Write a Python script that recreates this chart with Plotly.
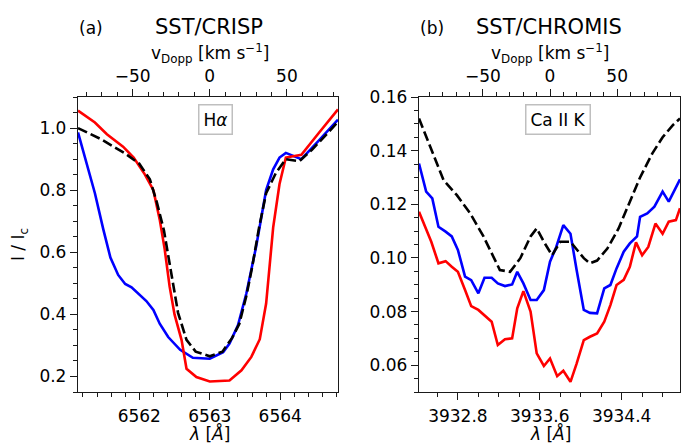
import plotly.graph_objects as go

C_KMS = 299792.458

# ---------------- H-alpha (SST/CRISP) ----------------
ha_black_wl = [6561.13, 6561.45, 6561.80, 6562.00, 6562.15, 6562.25, 6562.35, 6562.45, 6562.55, 6562.67,
               6562.80, 6563.00, 6563.18, 6563.32, 6563.42, 6563.52, 6563.60, 6563.70, 6563.80, 6563.94,
               6564.08, 6564.27, 6564.45, 6564.65, 6564.82]
ha_black_i = [1.000, 0.965, 0.918, 0.885, 0.835, 0.760, 0.670, 0.530, 0.405, 0.318,
              0.280, 0.265, 0.280, 0.325, 0.370, 0.460, 0.550, 0.680, 0.790, 0.856,
              0.900, 0.893, 0.930, 0.978, 1.020]

ha_red_wl = [6561.13, 6561.37, 6561.54, 6561.68, 6561.77, 6561.92, 6562.08, 6562.20, 6562.29, 6562.36,
             6562.43, 6562.50, 6562.60, 6562.67, 6562.81, 6563.00, 6563.28, 6563.45, 6563.59, 6563.71,
             6563.80, 6563.90, 6563.99, 6564.08, 6564.30, 6564.55, 6564.82]
ha_red_i = [1.056, 1.018, 0.980, 0.954, 0.940, 0.905, 0.850, 0.800, 0.705, 0.610,
            0.490, 0.400, 0.317, 0.225, 0.198, 0.184, 0.187, 0.220, 0.263, 0.320,
            0.435, 0.680, 0.820, 0.905, 0.914, 0.985, 1.060]

ha_blue_wl = [6561.13, 6561.25, 6561.37, 6561.49, 6561.59, 6561.70, 6561.80, 6561.89, 6561.99, 6562.10,
              6562.20, 6562.29, 6562.41, 6562.58, 6562.76, 6563.00, 6563.19, 6563.28, 6563.40, 6563.52,
              6563.66, 6563.71, 6563.80, 6563.90, 6563.99, 6564.08, 6564.18, 6564.30, 6564.55, 6564.82]
ha_blue_i = [0.986, 0.890, 0.790, 0.673, 0.583, 0.527, 0.498, 0.487, 0.465, 0.443,
             0.414, 0.370, 0.327, 0.286, 0.260, 0.257, 0.278, 0.306, 0.365, 0.468,
             0.620, 0.684, 0.800, 0.867, 0.905, 0.920, 0.910, 0.900, 0.960, 1.027]

# ---------------- Ca II K (SST/CHROMIS) ----------------
ca_black_wl = [3932.42, 3932.53, 3932.66, 3932.79, 3932.92, 3933.05, 3933.15, 3933.21, 3933.31, 3933.41,
               3933.51, 3933.57, 3933.64, 3933.72, 3933.80, 3933.90, 3934.03, 3934.09, 3934.16, 3934.26,
               3934.37, 3934.47, 3934.58, 3934.70, 3934.80, 3934.90, 3934.97]
ca_black_i = [0.1520, 0.1415, 0.1290, 0.1234, 0.1166, 0.1080, 0.1000, 0.0955, 0.0948, 0.0999,
              0.1080, 0.1110, 0.1060, 0.1010, 0.1060, 0.1060, 0.0999, 0.0980, 0.0990, 0.1035,
              0.1110, 0.1200, 0.1300, 0.1390, 0.1450, 0.1495, 0.1520]

ca_blue_wl = [3932.42, 3932.49, 3932.55, 3932.61, 3932.68, 3932.74, 3932.80, 3932.87, 3932.93, 3933.00,
              3933.06, 3933.13, 3933.19, 3933.26, 3933.33, 3933.38, 3933.44, 3933.51, 3933.57, 3933.64,
              3933.70, 3933.76, 3933.83, 3933.90, 3933.96, 3934.03, 3934.09, 3934.16, 3934.23, 3934.29,
              3934.35, 3934.42, 3934.48, 3934.55, 3934.58, 3934.65, 3934.72, 3934.80, 3934.86, 3934.93,
              3934.97]
ca_blue_i = [0.1352, 0.1247, 0.1222, 0.1116, 0.1098, 0.1080, 0.1030, 0.0930, 0.0917, 0.0868,
             0.0926, 0.0926, 0.0905, 0.0895, 0.0901, 0.0948, 0.0905, 0.0843, 0.0843, 0.0880,
             0.0986, 0.1040, 0.1122, 0.1090, 0.0955, 0.0806, 0.0795, 0.0793, 0.0886, 0.0899,
             0.0961, 0.1023, 0.1054, 0.1080, 0.1153, 0.1166, 0.1191, 0.1247, 0.1210, 0.1265,
             0.1293]

ca_red_wl = [3932.42, 3932.48, 3932.54, 3932.61, 3932.68, 3932.74, 3932.80, 3932.87, 3932.93, 3933.00,
             3933.06, 3933.13, 3933.19, 3933.26, 3933.33, 3933.38, 3933.44, 3933.51, 3933.57, 3933.64,
             3933.70, 3933.77, 3933.83, 3933.90, 3933.96, 3934.03, 3934.09, 3934.16, 3934.23, 3934.29,
             3934.35, 3934.42, 3934.48, 3934.54, 3934.60, 3934.66, 3934.73, 3934.80, 3934.86, 3934.93,
             3934.97]
ca_red_i = [0.1172, 0.1116, 0.1060, 0.0980, 0.0988, 0.0967, 0.0948, 0.0880, 0.0820, 0.0806,
            0.0787, 0.0762, 0.0675, 0.0697, 0.0700, 0.0812, 0.0876, 0.0800, 0.0644, 0.0597,
            0.0625, 0.0559, 0.0579, 0.0538, 0.0606, 0.0693, 0.0706, 0.0718, 0.0762, 0.0824,
            0.0899, 0.0918, 0.0967, 0.1058, 0.1010, 0.1041, 0.1128, 0.1090, 0.1135, 0.1141,
            0.1185]

# axis settings (wavelength ranges and line centres for the velocity axes)
ha_range = [6561.13, 6564.82]
ca_range = [3932.42, 3934.97]
ha_center = 6563.0
ca_center = 3933.70
ha_yrange = [0.15, 1.1]
ca_yrange = [0.05, 0.16]

W, H = 681, 444
FONT = "DejaVu Sans"
AX = "#1a1a1a"


def px(x):
    return x / W


def py(y):
    return 1 - y / H


def vel(rng, c0):
    return [(r - c0) / c0 * C_KMS for r in rng]


fig = go.Figure()

LW = 2.6
for xs, ys, col, dash, xa, ya in [
    (ha_blue_wl, ha_blue_i, "#0000ff", "solid", "x", "y"),
    (ha_red_wl, ha_red_i, "#ff0000", "solid", "x", "y"),
    (ha_black_wl, ha_black_i, "#000000", "10px,4px", "x", "y"),
    (ca_blue_wl, ca_blue_i, "#0000ff", "solid", "x2", "y2"),
    (ca_red_wl, ca_red_i, "#ff0000", "solid", "x2", "y2"),
    (ca_black_wl, ca_black_i, "#000000", "10px,4px", "x2", "y2"),
]:
    fig.add_trace(go.Scatter(x=xs, y=ys, mode="lines", xaxis=xa, yaxis=ya,
                             line=dict(color=col, width=LW, dash=dash),
                             showlegend=False, hoverinfo="skip"))

# invisible traces to carry the velocity (top) axes
fig.add_trace(go.Scatter(x=vel(ha_range, ha_center), y=[None, None], xaxis="x3", yaxis="y",
                         mode="lines", showlegend=False, hoverinfo="skip"))
fig.add_trace(go.Scatter(x=vel(ca_range, ca_center), y=[None, None], xaxis="x4", yaxis="y2",
                         mode="lines", showlegend=False, hoverinfo="skip"))

tickfont = dict(family=FONT, size=17, color="black")
dom_y = [py(392), py(97)]
dom_x1 = [px(78), px(338)]
dom_x2 = [px(419), px(680)]

common = dict(showline=True, linecolor=AX, linewidth=1.3, ticks="outside", ticklen=7,
              tickwidth=1.2, tickcolor=AX, tickfont=tickfont, showgrid=False, zeroline=False,
              automargin=False)
minor_common = dict(ticks="outside", ticklen=4, tickwidth=1.0, tickcolor=AX, showgrid=False)

fig.update_layout(
    width=W, height=H, margin=dict(l=0, r=0, t=0, b=0),
    template="none", paper_bgcolor="white", plot_bgcolor="white",
    font=dict(family=FONT, size=17, color="black"),
    xaxis=dict(domain=dom_x1, range=ha_range, anchor="y", tickvals=[6562, 6563, 6564],
               ticktext=["6562", "6563", "6564"], ticklabelstandoff=1,
               minor=dict(dtick=0.2, tick0=6562, **minor_common), **common),
    yaxis=dict(domain=dom_y, range=ha_yrange, anchor="x", dtick=0.2, tick0=0.2, tickformat=".1f",
               mirror=True, minor=dict(dtick=0.05, tick0=0.2, **minor_common),
               title=dict(text="I / I<sub>c</sub>", font=dict(family=FONT, size=17), standoff=10),
               **common),
    xaxis3=dict(overlaying="x", side="top", anchor="y", range=vel(ha_range, ha_center),
                dtick=50, tick0=0, minor=dict(dtick=10, tick0=0, **minor_common), **common),
    xaxis2=dict(domain=dom_x2, range=ca_range, anchor="y2", tickvals=[3932.8, 3933.6, 3934.4],
                ticktext=["3932.8", "3933.6", "3934.4"], ticklabelstandoff=1,
                minor=dict(dtick=0.2, tick0=3932.8, **minor_common), **common),
    yaxis2=dict(domain=dom_y, range=ca_yrange, anchor="x2", dtick=0.02, tick0=0.06, tickformat=".2f",
                mirror=True, minor=dict(dtick=0.005, tick0=0.06, **minor_common),
                **common),
    xaxis4=dict(overlaying="x2", side="top", anchor="y2", range=vel(ca_range, ca_center),
                dtick=50, tick0=0, minor=dict(dtick=10, tick0=0, **minor_common), **common),
)

lam_title = "<i>λ</i> [<i>Å</i>]"
v_title = "v<sub>Dopp</sub> [km s<sup>−1</sup>]"
ann = [
    dict(text="(a)", x=px(91), y=py(28), font=dict(family=FONT, size=17)),
    dict(text="SST/CRISP", x=px(209), y=py(27), font=dict(family=FONT, size=21)),
    dict(text="(b)", x=px(432), y=py(28), font=dict(family=FONT, size=17)),
    dict(text="SST/CHROMIS", x=px(549), y=py(27), font=dict(family=FONT, size=21)),
    dict(text=v_title, x=px(210), y=py(53), font=dict(family=FONT, size=17)),
    dict(text=v_title, x=px(550), y=py(53), font=dict(family=FONT, size=17)),
    dict(text=lam_title, x=px(209), y=py(433), font=dict(family=FONT, size=17), borderpad=0),
    dict(text=lam_title, x=px(550), y=py(433), font=dict(family=FONT, size=17), borderpad=0),
    dict(text="H<i>α</i>", x=px(215.5), y=py(119), font=dict(family=FONT, size=17),
         bordercolor="#bfbfbf", borderwidth=1.5, borderpad=4, bgcolor="white"),
    dict(text="Ca II K", x=px(558), y=py(119), font=dict(family=FONT, size=17),
         bordercolor="#bfbfbf", borderwidth=1.5, borderpad=4, bgcolor="white"),
]
for a in ann:
    fig.add_annotation(xref="paper", yref="paper", showarrow=False,
                       xanchor="center", yanchor="middle", **a)

fig.write_html("out.html", config={"displayModeBar": False},
               post_script="document.body.style.margin='0px';document.body.style.overflow='hidden';")
